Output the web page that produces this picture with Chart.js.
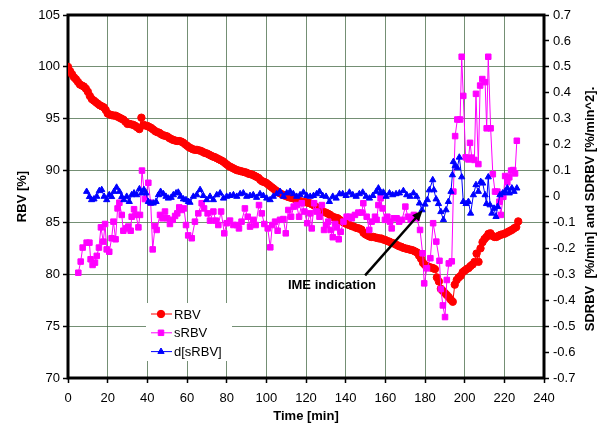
<!DOCTYPE html>
<html>
<head>
<meta charset="utf-8">
<script src="https://cdn.jsdelivr.net/npm/chart.js@4.4.1/dist/chart.umd.min.js"></script>
<style>
  html, body { margin: 0; padding: 0; background: #fff; }
  #wrap { width: 605px; height: 427px; }
</style>
</head>
<body>
<div id="wrap"><canvas id="chart" width="605" height="427"></canvas></div>
<script>
// RBV [%] - left axis, one sample per minute starting at t = 0
const rbvValue = [
  100.0, 99.6, 99.3, 99.0, 98.8, 98.55, 98.3, 98.2, 98.1, 97.9,
  97.6, 97.2, 96.9, 96.75, 96.6, 96.45, 96.3, 96.2, 96.1, 95.85,
  95.5, 95.4, 95.35, 95.3, 95.3, 95.2, 95.1, 95.0, 94.9, 94.7,
  94.5, 94.5, 94.45, 94.4, 94.3, 94.15, 94.0, 95.1, 94.4, 94.35,
  94.3, 94.2, 94.1, 93.95, 93.8, 93.7, 93.65, 93.5, 93.4, 93.35,
  93.3, 93.15, 93.05, 92.95, 92.9, 92.85, 92.85, 92.8, 92.7, 92.55,
  92.4, 92.25, 92.15, 92.05, 92.0, 92.0, 91.95, 91.9, 91.8, 91.7,
  91.65, 91.55, 91.45, 91.35, 91.3, 91.2, 91.1, 91.0, 90.9, 90.75,
  90.6, 90.45, 90.35, 90.25, 90.15, 90.05, 90.0, 89.95, 89.9, 89.85,
  89.8, 89.7, 89.65, 89.6, 89.5, 89.4, 89.3, 89.1, 88.95, 88.9,
  88.8, 88.65, 88.5, 88.35, 88.2, 88.05, 87.9, 87.8, 87.7, 87.6,
  87.55, 87.45, 87.4, 87.35, 87.3, 87.2, 87.15, 87.05, 87.0, 86.95,
  86.95, 86.9, 86.85, 86.75, 86.65, 86.5, 86.4, 86.25, 86.1, 86.0,
  85.95, 85.85, 85.75, 85.6, 85.5, 85.45, 85.4, 85.25, 85.1, 85.0,
  84.9, 84.8, 84.75, 84.65, 84.6, 84.5, 84.45, 84.4, 84.3, 84.0,
  83.85, 83.75, 83.65, 83.6, 83.6, 83.55, 83.5, 83.45, 83.45, 83.35,
  83.3, 83.2, 83.15, 83.05, 83.0, 82.9, 82.8, 82.7, 82.65, 82.55,
  82.5, 82.45, 82.4, 82.35, 82.3, 82.2, 82.1, 81.8, 81.5, 81.1,
  80.9, 80.8, 80.7, 80.65, 80.6, 80.5, 79.7, 79.3, 78.6, 78.4,
  78.2, 78.0, 77.8, 77.55, 77.35, 79.0, 79.45, 79.7, 79.85, 80.2,
  80.35, 80.5, 80.6, 80.8, 80.95, 81.2, 82.0, 81.2, 82.5, 83.1,
  83.4, 83.6, 83.9, 83.95, 83.7, 83.6, 83.6, 83.7, 83.8, 83.85,
  83.9, 84.0, 84.1, 84.2, 84.3, 84.45, 84.55, 85.1];
const rbvTime = rbvValue.map((v, i) => i);

// sRBV [%/min] - right axis
const srbvTime = [5.2, 6.4, 7.4, 9.4, 10.8, 11.4, 12.4, 13.6, 14.5, 15.6, 16.6, 17.8, 18.7, 19.5, 20.8, 22.0,
  22.9, 24.0, 25.0, 25.9, 27.1, 27.9, 29.2, 30.4, 31.6, 32.1, 33.3, 34.3, 35.5, 36.3, 37.3, 38.8,
  40.5, 41.7, 42.7, 43.9, 44.7, 46.4, 47.7, 48.9, 50.0, 51.4, 52.8, 54.0, 55.1, 56.1, 57.3, 58.5,
  59.5, 60.6, 62.4, 64.0, 65.7, 67.4, 68.6, 70.4, 71.6, 73.3, 74.5, 75.8, 77.2, 78.8, 80.0, 81.7,
  83.4, 85.1, 86.2, 87.5, 89.2, 90.6, 91.8, 93.4, 94.6, 96.3, 97.7, 99.0, 100.7, 102.0, 103.0,
  104.4, 105.7, 106.9, 108.6, 109.8, 111.1, 112.5, 113.8, 115.3, 116.5, 117.9, 119.2, 120.6,
  122.1, 122.9, 124.1, 125.4, 126.8, 128.0, 129.1, 130.1, 131.2, 132.4, 133.5, 134.7, 135.5,
  136.5, 137.5, 138.9, 140.5, 141.9, 143.1, 144.7, 146.4, 148.1, 148.9, 150.6, 151.9, 153.1,
  154.8, 155.6, 156.5, 157.6, 158.6, 159.8, 161.0, 162.3, 163.2, 164.3, 165.7, 167.0, 168.4,
  170.1, 171.4, 172.8, 174.4, 175.8, 177.5, 178.8, 179.6, 181.0, 182.7, 184.1, 185.7, 187.3,
  188.0, 189.0, 190.1, 191.0, 192.0, 193.5, 194.3, 195.2, 196.3, 197.7, 198.5, 199.3, 200.5,
  201.9, 202.7, 203.6, 204.9, 205.7, 206.9, 207.8, 208.9, 210.3, 211.1, 211.9, 213.1, 214.2,
  215.3, 216.5, 217.5, 218.2, 219.5, 220.4, 221.5, 222.5, 223.4, 224.5, 225.4, 226.3];
const srbvValue = [-0.294, -0.251, -0.197, -0.178, -0.178, -0.242, -0.264, -0.255, -0.229, -0.197, -0.119,
  -0.174, -0.106, -0.204, -0.213, -0.161,
  -0.097, -0.165, -0.046, -0.024, -0.071, -0.132, -0.123, -0.116, -0.132, -0.078, -0.049, -0.071,
  -0.119, -0.071, 0.100, -0.010,
  0.053, -0.024, -0.204, -0.114, -0.129, -0.071, -0.084, -0.058, -0.084, -0.106, -0.090, -0.075,
  -0.065, -0.042, -0.052, -0.046,
  -0.110, -0.150, -0.161, -0.097, -0.065, -0.026, -0.046, -0.065, -0.093, -0.058, -0.093, -0.110,
  -0.058, -0.142, -0.103, -0.093,
  -0.110, -0.110, -0.123, -0.097, -0.046, -0.078, -0.116, -0.090, -0.110, -0.033, -0.065, -0.106,
  -0.123, -0.196, -0.110,
  -0.097, -0.132, -0.090, -0.087, -0.142, -0.052, -0.078, -0.039, -0.033, -0.078, -0.026, -0.058,
  -0.103,
  -0.065, -0.123, -0.026, -0.058, -0.078, -0.033, -0.129, -0.110, -0.097, -0.129, -0.157, -0.106,
  -0.119,
  -0.165, -0.136, -0.097, -0.078, -0.078, -0.084, -0.071, -0.062, -0.062, -0.026, -0.078, -0.129,
  -0.097,
  -0.078, -0.090, -0.033, -0.007, -0.046, -0.090, -0.078, -0.097, -0.123, -0.084, -0.084, -0.097,
  -0.090,
  -0.039, -0.078, -0.090, -0.071, -0.084, -0.129, -0.219, -0.335, -0.277, -0.238, -0.103, -0.174,
  -0.248,
  -0.357, -0.420, -0.465, -0.322, -0.258, -0.250, 0.019, 0.233, 0.297, 0.297, 0.539, 0.388, 0.151,
  0.143, 0.207, 0.150, 0.141, 0.396, 0.125, 0.428, 0.453, 0.441, 0.263, 0.539, 0.263, 0.086,
  0.019, 0.019, -0.020, -0.071, -0.001, 0.079, 0.055, 0.074, 0.100, 0.102, 0.089, 0.215];

// d[sRBV] [%/min^2] - right axis
const dsrbvTime = [9.4, 10.8, 11.9, 13.1, 14.5, 15.8, 17.0, 18.2, 19.5, 20.8, 22.0, 23.2, 24.5, 25.9, 27.1,
  28.2, 29.6, 30.9, 32.1, 33.3, 34.6, 36.0, 37.1, 38.3, 39.3, 40.5, 41.7, 43.0, 44.4, 45.6, 46.7,
  48.1, 49.4, 50.6, 52.0, 53.1, 54.5, 55.6, 56.8, 58.2, 59.5, 60.7, 61.5, 63.2, 64.9, 66.6, 68.2,
  69.9, 71.6, 73.3, 75.0, 76.7, 78.4, 80.0, 81.7, 83.4, 85.1, 86.8, 88.4, 90.1, 91.8, 93.4, 95.1,
  96.8, 98.5, 100.2, 101.9, 103.5, 105.2, 106.9, 108.6, 110.3, 112.0, 113.6, 115.3, 117.0, 118.7,
  120.4, 122.1, 123.8, 125.4, 126.8, 128.4, 130.1, 131.8, 133.5, 135.2, 136.9, 138.5, 140.2, 141.9,
  143.6, 145.3, 146.9, 148.6, 150.3, 152.0, 153.7, 155.4, 156.5, 157.7, 159.0, 160.4, 162.1, 163.7,
  165.4, 167.1, 169.1, 170.8, 172.5, 174.2, 175.8, 177.2, 178.5, 180.0, 181.2, 182.2, 183.9, 184.5,
  185.6, 186.8, 188.0, 189.3, 190.6, 191.8, 193.1, 193.8, 194.3, 195.2, 196.3, 197.3, 198.5, 199.3,
  200.7, 201.9, 203.0, 204.4, 205.7, 206.9, 208.1, 209.1, 210.3, 211.0, 211.9, 212.8, 213.7, 214.8,
  215.8, 216.6, 217.8, 219.2, 220.4, 221.5, 222.5, 223.8, 224.9, 226.3];
const dsrbvValue = [0.019, -0.001, -0.013, -0.010, 0.000, 0.022, 0.026, 0.000, -0.013, 0.006, -0.001, 0.019,
  0.035, 0.019, -0.001,
  -0.013, 0.000, -0.020, 0.006, 0.013, 0.006, 0.029, 0.013, 0.026, 0.013, -0.020, -0.026, -0.026,
  -0.020, 0.006, 0.019,
  0.010, 0.000, -0.007, -0.004, 0.006, 0.013, 0.016, 0.000, -0.010, -0.013, -0.020, -0.023, 0.000,
  0.006, 0.026, 0.003,
  -0.013, 0.000, -0.013, 0.006, 0.013, -0.007, 0.000, 0.003, 0.006, 0.000, 0.010, 0.013, 0.000,
  0.003, 0.006, -0.004,
  0.010, 0.003, -0.007, -0.013, 0.000, 0.010, 0.019, 0.000, 0.013, 0.019, 0.010, 0.000, 0.006,
  0.016,
  0.003, 0.000, 0.003, 0.010, 0.019, 0.003, 0.000, -0.020, 0.000, -0.007, 0.010, 0.010, 0.003,
  0.016,
  0.006, 0.000, 0.010, 0.016, 0.000, -0.007, 0.003, 0.019, 0.032, 0.013, 0.016, 0.000, 0.013,
  0.006,
  0.010, 0.013, 0.022, 0.006, 0.000, 0.013, 0.000, -0.026, -0.052, -0.030, -0.013, 0.025, 0.064,
  0.025,
  -0.010, -0.028, -0.059, -0.090, -0.052, -0.020, 0.019, 0.083, 0.134, 0.118, 0.110, 0.151, 0.075,
  -0.020,
  -0.028, -0.020, -0.065, 0.006, 0.045, 0.019, 0.057, 0.051, 0.006, -0.028, 0.075, -0.033, -0.065,
  -0.046,
  -0.078, -0.039, 0.006, 0.013, 0.019, 0.032, 0.013, 0.032, 0.019, 0.032];

// axes
const xTicks = { min: 0, max: 240, step: 20 };
const leftTicks = { min: 70, max: 105, step: 5 };
const rightTicks = { min: -0.7, max: 0.7, step: 0.1 };

const xTitle = 'Time [min]';
const leftTitle = 'RBV [%]';
const rightTitle = 'SDRBV  [%/min] and SDRBV [%/min^2].';

// annotation (data coords, left axis)
const imeLabel = 'IME indication';
const imeText = { x: 133.1, y: 78.9 };
const imeTail = { x: 149.8, y: 79.9 };
const imeTip = { x: 178.9, y: 86.2 };

const toPoints = (ts, vs) => ts.map((t, i) => ({ x: t, y: vs[i] }));

const FONT = '"Liberation Sans", Arial, sans-serif';
const gridColor = 'rgba(70, 105, 70, 0.75)';

// plot frame, drawn under the markers
const framePlugin = {
  id: 'frame',
  beforeDatasetsDraw(chart) {
    const { ctx, chartArea: a } = chart;
    ctx.save();
    ctx.strokeStyle = '#000';
    ctx.lineWidth = 3;
    ctx.strokeRect(a.left, a.top, a.right - a.left, a.bottom - a.top);
    ctx.restore();
  }
};

// legend box, annotation and axis titles
const overlayPlugin = {
  id: 'overlay',
  afterDatasetsDraw(chart) {
    const { ctx, chartArea: a, scales } = chart;
    ctx.save();

    // legend
    const lx = a.left + 78, ly = a.top + 288;
    ctx.fillStyle = '#fff';
    ctx.fillRect(lx, ly, 86, 58);
    ['RBV', 'sRBV', 'd[sRBV]'].forEach((name, i) => {
      const ds = chart.data.datasets.find(d => d.label === name);
      const y = ly + 11 + i * 18.8;
      ctx.strokeStyle = ds.borderColor;
      ctx.lineWidth = 1;
      ctx.beginPath();
      ctx.moveTo(lx + 5, y);
      ctx.lineTo(lx + 26, y);
      ctx.stroke();
      ctx.fillStyle = ds.backgroundColor;
      Chart.helpers.drawPoint(ctx, {
        pointStyle: ds.pointStyle, radius: ds.pointRadius, borderWidth: 1, rotation: 0
      }, lx + 15, y);
      ctx.fillStyle = '#000';
      ctx.font = '13px ' + FONT;
      ctx.textAlign = 'left';
      ctx.textBaseline = 'middle';
      ctx.fillText(name, lx + 28, y + 1);
    });

    // IME arrow
    const x = scales.x, y = scales.y;
    const tx = x.getPixelForValue(imeTail.x), ty = y.getPixelForValue(imeTail.y);
    const px = x.getPixelForValue(imeTip.x), py = y.getPixelForValue(imeTip.y);
    const ang = Math.atan2(py - ty, px - tx);
    ctx.strokeStyle = '#000';
    ctx.fillStyle = '#000';
    ctx.lineWidth = 2.5;
    ctx.beginPath();
    ctx.moveTo(tx, ty);
    ctx.lineTo(px - 8 * Math.cos(ang), py - 8 * Math.sin(ang));
    ctx.stroke();
    ctx.beginPath();
    ctx.moveTo(px, py);
    ctx.lineTo(px - 11 * Math.cos(ang) + 4.5 * Math.sin(ang), py - 11 * Math.sin(ang) - 4.5 * Math.cos(ang));
    ctx.lineTo(px - 11 * Math.cos(ang) - 4.5 * Math.sin(ang), py - 11 * Math.sin(ang) + 4.5 * Math.cos(ang));
    ctx.closePath();
    ctx.fill();

    ctx.font = 'bold 13px ' + FONT;
    ctx.textAlign = 'center';
    ctx.textBaseline = 'middle';
    ctx.fillText(imeLabel, x.getPixelForValue(imeText.x), y.getPixelForValue(imeText.y));
    ctx.restore();
  },
  afterDraw(chart) {
    const { ctx, chartArea: a } = chart;
    ctx.save();
    ctx.fillStyle = '#000';
    ctx.font = 'bold 13px ' + FONT;
    ctx.textAlign = 'center';
    ctx.textBaseline = 'middle';
    ctx.fillText(xTitle, (a.left + a.right) / 2, 416);

    ctx.translate(22, (a.top + a.bottom) / 2);
    ctx.rotate(-Math.PI / 2);
    ctx.fillText(leftTitle, 0, 0);
    ctx.restore();

    ctx.save();
    ctx.fillStyle = '#000';
    ctx.font = 'bold 13px ' + FONT;
    ctx.textAlign = 'center';
    ctx.textBaseline = 'middle';
    ctx.translate(590, 209);
    ctx.rotate(-Math.PI / 2);
    ctx.fillText(rightTitle, 0, 0);
    ctx.restore();
  }
};

const tickFont = { family: FONT, size: 13 };

new Chart(document.getElementById('chart'), {
  type: 'line',
  data: {
    datasets: [
      {
        label: 'd[sRBV]',
        data: toPoints(dsrbvTime, dsrbvValue),
        yAxisID: 'y2',
        borderColor: '#0000ff',
        backgroundColor: '#0000ff',
        borderWidth: 1,
        pointStyle: 'triangle',
        pointRadius: 3.6,
        pointBorderWidth: 1,
        tension: 0
      },
      {
        label: 'sRBV',
        data: toPoints(srbvTime, srbvValue),
        yAxisID: 'y2',
        borderColor: '#ff00ff',
        backgroundColor: '#ff00ff',
        borderWidth: 1,
        pointStyle: 'rect',
        pointRadius: 3.9,
        pointBorderWidth: 1,
        tension: 0
      },
      {
        label: 'RBV',
        data: toPoints(rbvTime, rbvValue),
        yAxisID: 'y',
        borderColor: '#ff0000',
        backgroundColor: '#ff0000',
        borderWidth: 1,
        pointStyle: 'circle',
        pointRadius: 3.7,
        pointBorderWidth: 1,
        tension: 0
      }
    ]
  },
  options: {
    responsive: false,
    animation: false,
    devicePixelRatio: 1,
    layout: { padding: { top: 15, left: 0, right: 0, bottom: 0 } },
    plugins: { legend: { display: false }, tooltip: { enabled: false } },
    scales: {
      x: {
        type: 'linear',
        min: xTicks.min,
        max: xTicks.max,
        afterFit: s => { s.height = 49; },
        border: { display: false },
        grid: { color: gridColor, tickColor: '#000', tickLength: 5, tickWidth: 1.5 },
        ticks: { stepSize: xTicks.step, color: '#000', font: tickFont, padding: 8, maxRotation: 0 }
      },
      y: {
        position: 'left',
        min: leftTicks.min,
        max: leftTicks.max,
        afterFit: s => { s.width = 68; },
        border: { display: false },
        grid: { color: gridColor, tickColor: '#000', tickLength: 5, tickWidth: 1.5 },
        ticks: { stepSize: leftTicks.step, color: '#000', font: tickFont, padding: 3 }
      },
      y2: {
        position: 'right',
        min: rightTicks.min,
        max: rightTicks.max,
        afterFit: s => { s.width = 61; },
        border: { display: false },
        grid: { drawOnChartArea: false, tickColor: '#000', tickLength: 5, tickWidth: 1.5 },
        ticks: {
          stepSize: rightTicks.step, color: '#000', font: tickFont, padding: 4,
          callback: v => Math.abs(v) < 1e-9 ? '0' : v.toFixed(1)
        }
      }
    }
  },
  plugins: [framePlugin, overlayPlugin]
});
</script>
</body>
</html>
